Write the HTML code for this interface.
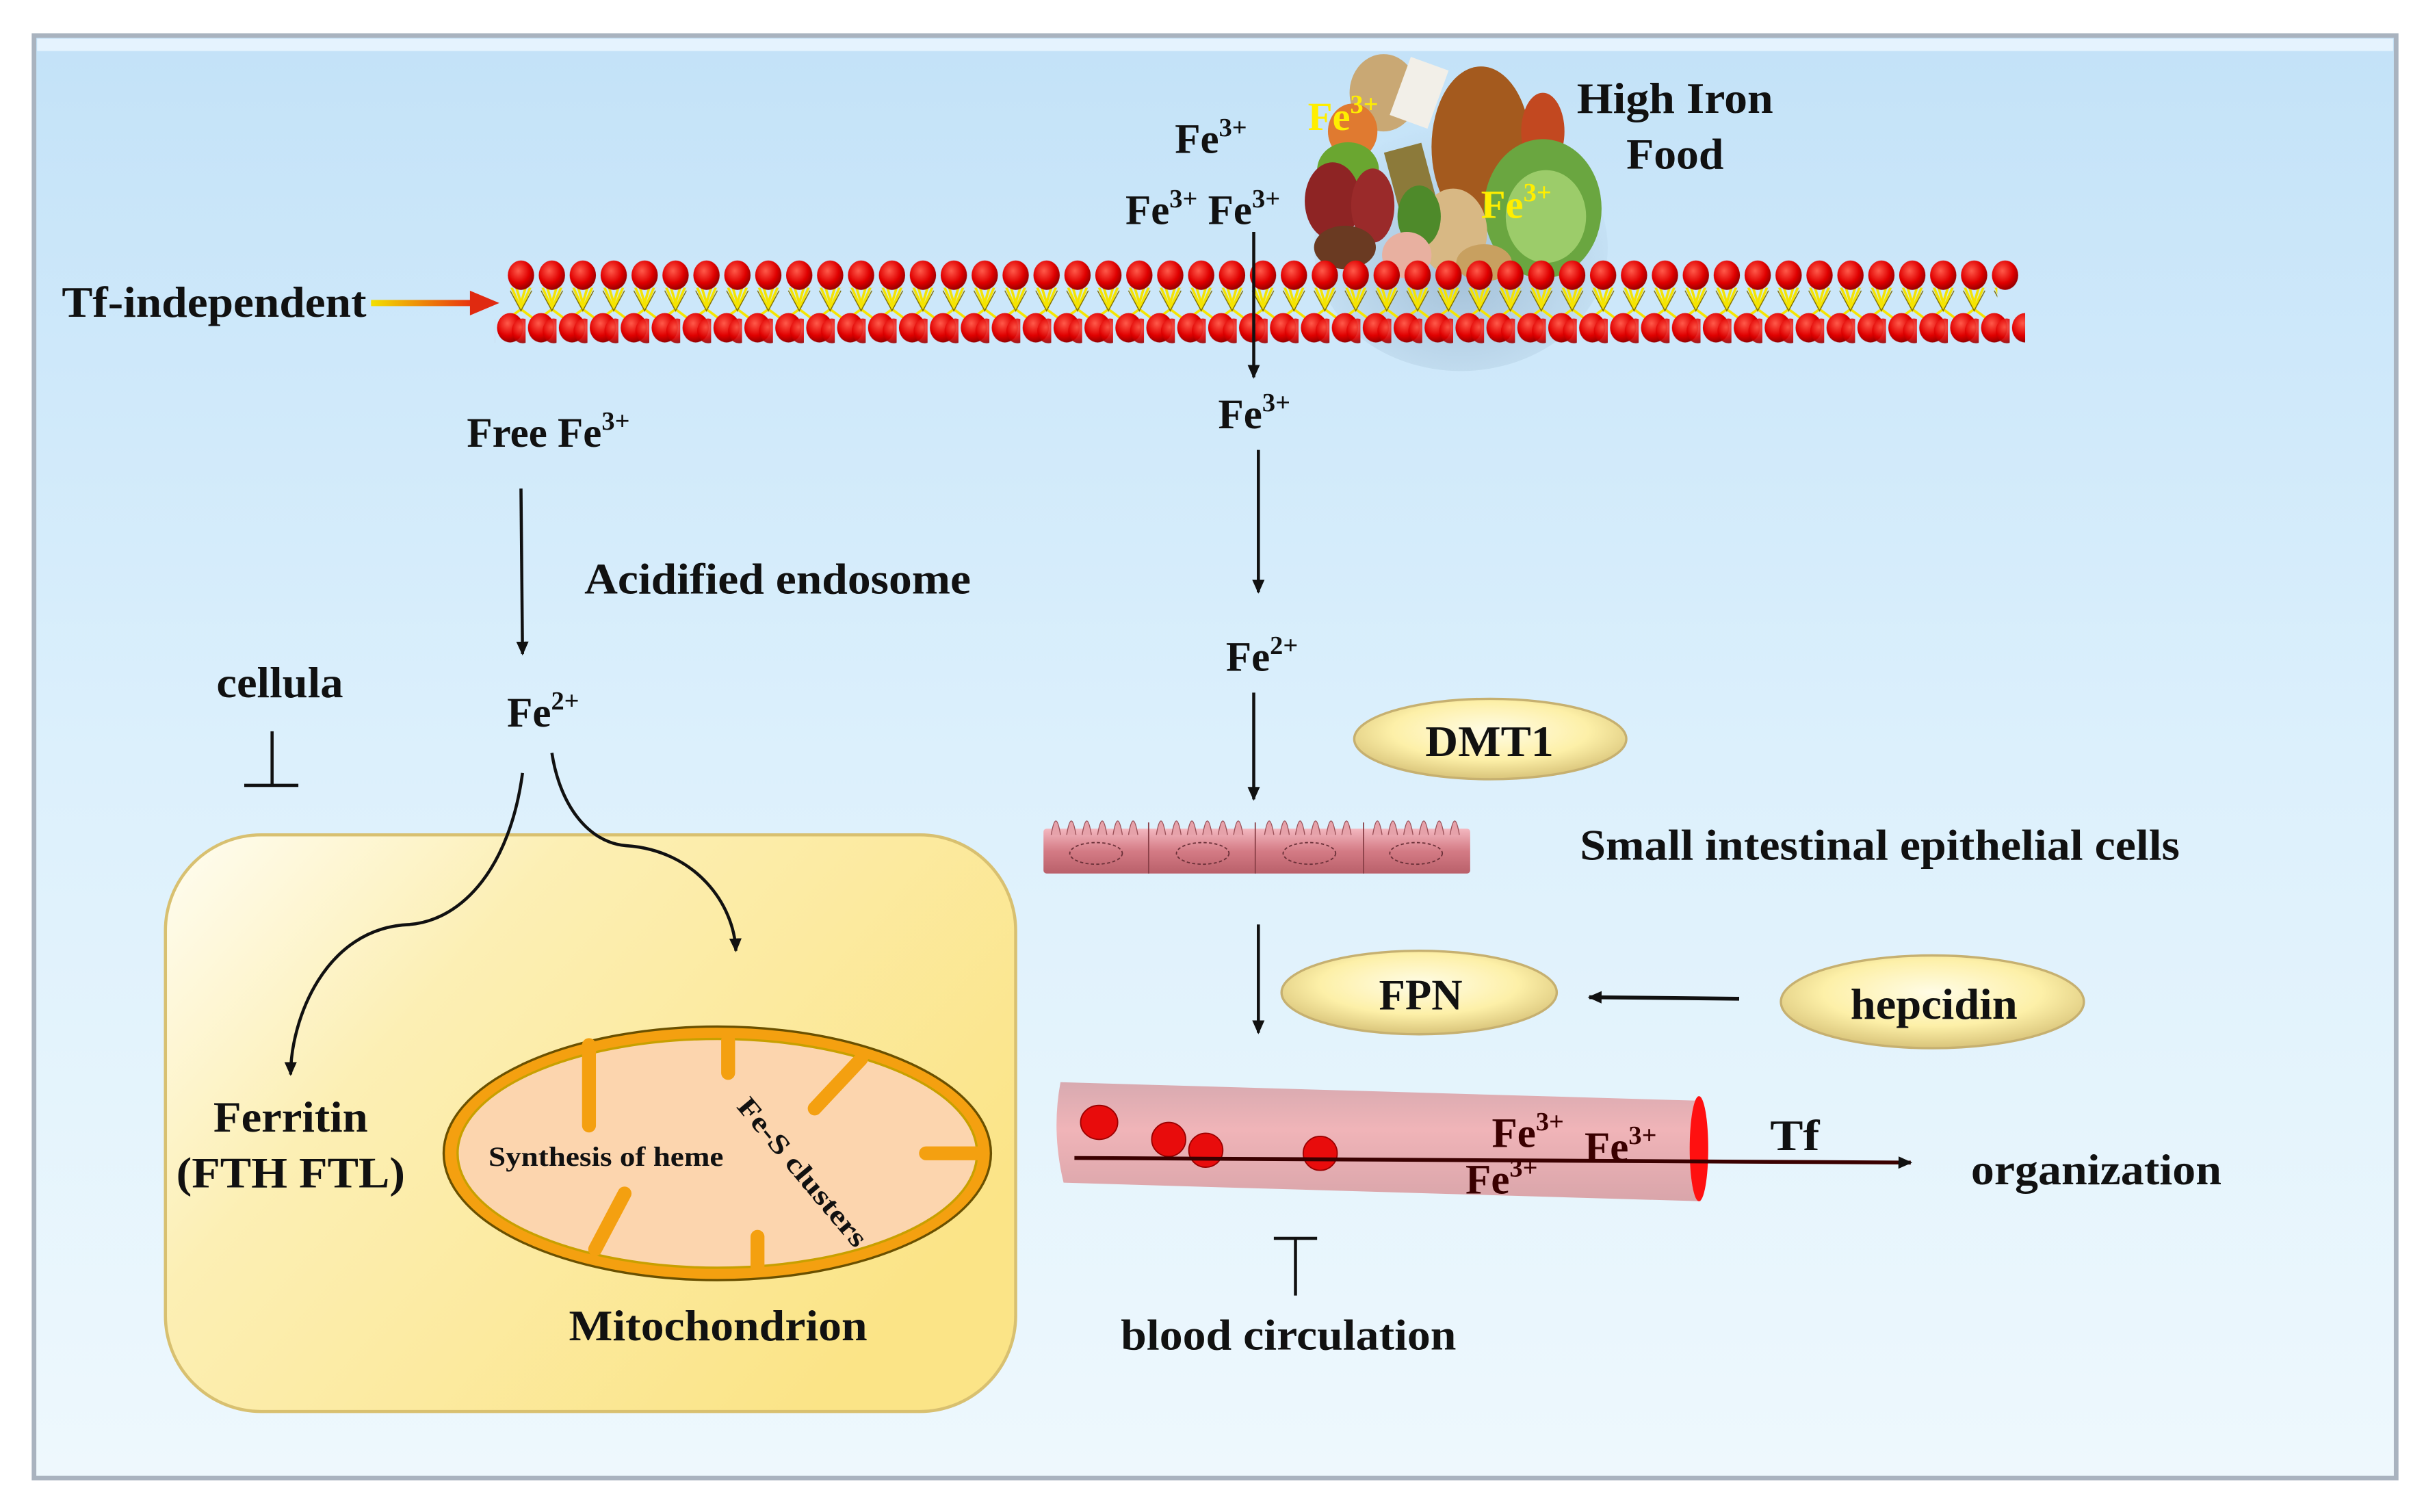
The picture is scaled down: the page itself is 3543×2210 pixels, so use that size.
<!DOCTYPE html>
<html><head><meta charset="utf-8"><style>
html,body{margin:0;padding:0;background:#fff}
svg{display:block}
text{font-family:"Liberation Serif",serif;font-weight:bold;fill:#111}
</style></head><body>
<svg width="3543" height="2210" viewBox="0 0 1568 978" preserveAspectRatio="none" xmlns="http://www.w3.org/2000/svg">
<defs>
<linearGradient id="bg" x1="0" y1="0" x2="0" y2="1"><stop offset="0" stop-color="#c3e2f8"/><stop offset="0.5" stop-color="#dcf0fc"/><stop offset="1" stop-color="#eef8fd"/></linearGradient>
<linearGradient id="cell" x1="0" y1="0" x2="1" y2="0.6"><stop offset="0" stop-color="#fffdf2"/><stop offset="0.35" stop-color="#fcefb4"/><stop offset="1" stop-color="#fbe487"/></linearGradient>
<radialGradient id="head" cx="0.4" cy="0.35" r="0.7"><stop offset="0" stop-color="#ff5a4a"/><stop offset="0.6" stop-color="#e00000"/><stop offset="1" stop-color="#8a0000"/></radialGradient>
<pattern id="topHeads" x="327" y="168" width="20" height="22" patternUnits="userSpaceOnUse"><ellipse cx="10" cy="10" rx="8.5" ry="9.5" fill="url(#head)"/></pattern>
<pattern id="botHeads" x="320" y="202" width="20" height="22" patternUnits="userSpaceOnUse"><ellipse cx="10" cy="10" rx="8.5" ry="9.5" fill="url(#head)"/><ellipse cx="18" cy="12" rx="7" ry="8" fill="url(#head)" opacity="0.9"/></pattern>
<pattern id="tails" x="327" y="186" width="20" height="20" patternUnits="userSpaceOnUse"><path d="M4 0 L10 14 L16 0 M7 0 L10 10 L13 0 M10 14 L2 20 M10 14 L18 20" stroke="#f5e400" stroke-width="1.6" fill="none"/><path d="M3 2 L10 15 L17 2" stroke="#7a6a00" stroke-width="0.6" fill="none"/></pattern>
<linearGradient id="tfArr" x1="0" x2="1"><stop offset="0" stop-color="#f3e000"/><stop offset="1" stop-color="#e83010"/></linearGradient>
<radialGradient id="oval" cx="0.5" cy="0.4" r="0.6"><stop offset="0" stop-color="#fffce6"/><stop offset="0.6" stop-color="#fdf0a8"/><stop offset="1" stop-color="#d9c47a"/></radialGradient>
<linearGradient id="vessel" x1="0" y1="0" x2="0" y2="1"><stop offset="0" stop-color="#d8aab0"/><stop offset="0.4" stop-color="#f0b4b8"/><stop offset="1" stop-color="#d9a5aa"/></linearGradient>
<linearGradient id="epi" x1="0" y1="0" x2="0" y2="1"><stop offset="0" stop-color="#f3b8c0"/><stop offset="0.5" stop-color="#d47b85"/><stop offset="1" stop-color="#b9606a"/></linearGradient>
<radialGradient id="food" cx="0.5" cy="0.6" r="0.6"><stop offset="0" stop-color="#5b7a9a" stop-opacity="0.35"/><stop offset="1" stop-color="#5b7a9a" stop-opacity="0"/></radialGradient>
<marker id="ah" markerWidth="10" markerHeight="10" refX="8" refY="5" orient="auto" markerUnits="userSpaceOnUse"><path d="M0 1 L9 5 L0 9 Z" fill="#111"/></marker>
</defs>

<rect x="0" y="0" width="1568" height="978" fill="#fff"/>
<rect x="22" y="23" width="1528" height="933" fill="url(#bg)" stroke="#a9b3bf" stroke-width="3"/>
<rect x="24" y="25" width="1524" height="8" fill="#eef8ff" opacity="0.8"/>

<ellipse cx="945" cy="160" rx="95" ry="80" fill="url(#food)"/>
<g>
<ellipse cx="895" cy="60" rx="22" ry="25" fill="#c9a874"/>
<rect x="905" y="40" width="26" height="40" fill="#f2efe8" transform="rotate(20 918 60)"/>
<ellipse cx="958" cy="95" rx="32" ry="52" fill="#a45a1e"/>
<ellipse cx="998" cy="85" rx="14" ry="25" fill="#c24820"/>
<ellipse cx="875" cy="85" rx="16" ry="18" fill="#e07a30"/>
<ellipse cx="872" cy="110" rx="20" ry="18" fill="#6aa630"/>
<rect x="900" y="95" width="25" height="40" fill="#8c7a3a" transform="rotate(-15 912 115)"/>
<ellipse cx="862" cy="130" rx="18" ry="25" fill="#8e2424"/>
<ellipse cx="888" cy="133" rx="14" ry="24" fill="#9a2a2a"/>
<ellipse cx="998" cy="135" rx="38" ry="45" fill="#6aa640"/>
<ellipse cx="1000" cy="140" rx="26" ry="30" fill="#9ccc6a"/>
<ellipse cx="940" cy="150" rx="22" ry="28" fill="#d8b884"/>
<ellipse cx="918" cy="140" rx="14" ry="20" fill="#4e8a2a"/>
<ellipse cx="870" cy="160" rx="20" ry="14" fill="#6a3a22"/>
<ellipse cx="910" cy="165" rx="16" ry="15" fill="#e8b0a0"/>
<ellipse cx="960" cy="170" rx="18" ry="12" fill="#c8a060"/>
</g>
<text x="846" y="84" font-size="26" style="fill:#ffee00">Fe<tspan font-size="17" dy="-11">3+</tspan></text>
<text x="958" y="141" font-size="26" style="fill:#ffee00">Fe<tspan font-size="17" dy="-11">3+</tspan></text>
<text x="1020" y="73" font-size="28" textLength="127" lengthAdjust="spacingAndGlyphs">High Iron</text>
<text x="1052" y="109" font-size="28" textLength="63" lengthAdjust="spacingAndGlyphs">Food</text>
<text x="760" y="99" font-size="27">Fe<tspan font-size="17" dy="-11">3+</tspan></text>
<text x="728" y="145" font-size="27">Fe<tspan font-size="17" dy="-11">3+</tspan><tspan dy="11"> Fe</tspan><tspan font-size="17" dy="-11">3+</tspan></text>

<rect x="330" y="186" width="962" height="20" fill="url(#tails)"/>
<rect x="327" y="168" width="980" height="22" fill="url(#topHeads)"/>
<rect x="320" y="202" width="990" height="22" fill="url(#botHeads)"/>

<text x="40" y="205" font-size="28" textLength="197" lengthAdjust="spacingAndGlyphs">Tf-independent</text>
<rect x="240" y="194" width="66" height="4" fill="url(#tfArr)"/>
<path d="M304 188 L323 196 L304 204 Z" fill="#e02a10"/>

<line x1="811" y1="150" x2="811" y2="244" stroke="#111" stroke-width="2" marker-end="url(#ah)"/>
<text x="788" y="277" font-size="27">Fe<tspan font-size="17" dy="-11">3+</tspan></text>
<line x1="814" y1="291" x2="814" y2="383" stroke="#111" stroke-width="2" marker-end="url(#ah)"/>
<text x="793" y="434" font-size="27">Fe<tspan font-size="17" dy="-11">2+</tspan></text>
<line x1="811" y1="448" x2="811" y2="517" stroke="#111" stroke-width="2" marker-end="url(#ah)"/>

<ellipse cx="964" cy="478" rx="88" ry="26" fill="url(#oval)" stroke="#c6b070" stroke-width="1.5"/>
<text x="922" y="489" font-size="28" textLength="83" lengthAdjust="spacingAndGlyphs">DMT1</text>

<g>
<rect x="675" y="536" width="276" height="29" rx="2" fill="url(#epi)"/>
<g fill="#e6a2aa" stroke="#9a5058" stroke-width="0.6">
<path d="M680 540 q3 -18 6 0 M690 540 q3 -18 6 0 M700 540 q3 -18 6 0 M710 540 q3 -18 6 0 M720 540 q3 -18 6 0 M730 540 q3 -18 6 0 M748 540 q3 -18 6 0 M758 540 q3 -18 6 0 M768 540 q3 -18 6 0 M778 540 q3 -18 6 0 M788 540 q3 -18 6 0 M798 540 q3 -18 6 0 M818 540 q3 -18 6 0 M828 540 q3 -18 6 0 M838 540 q3 -18 6 0 M848 540 q3 -18 6 0 M858 540 q3 -18 6 0 M868 540 q3 -18 6 0 M888 540 q3 -18 6 0 M898 540 q3 -18 6 0 M908 540 q3 -18 6 0 M918 540 q3 -18 6 0 M928 540 q3 -18 6 0 M938 540 q3 -18 6 0"/>
</g>
<g stroke="#8a4048" stroke-width="0.8" fill="none">
<line x1="743" y1="532" x2="743" y2="565"/><line x1="812" y1="532" x2="812" y2="565"/><line x1="882" y1="532" x2="882" y2="565"/>
</g>
<g stroke="#6a3038" stroke-width="0.8" fill="none" stroke-dasharray="2 1.5">
<ellipse cx="709" cy="552" rx="17" ry="7"/><ellipse cx="778" cy="552" rx="17" ry="7"/><ellipse cx="847" cy="552" rx="17" ry="7"/><ellipse cx="916" cy="552" rx="17" ry="7"/>
</g>
</g>
<text x="1022" y="556" font-size="28" textLength="388" lengthAdjust="spacingAndGlyphs">Small intestinal epithelial cells</text>

<line x1="814" y1="598" x2="814" y2="668" stroke="#111" stroke-width="2" marker-end="url(#ah)"/>
<ellipse cx="918" cy="642" rx="89" ry="27" fill="url(#oval)" stroke="#c6b070" stroke-width="1.5"/>
<text x="892" y="653" font-size="28" textLength="54" lengthAdjust="spacingAndGlyphs">FPN</text>
<ellipse cx="1250" cy="648" rx="98" ry="30" fill="url(#oval)" stroke="#c6b070" stroke-width="1.5"/>
<text x="1197" y="659" font-size="28" textLength="108" lengthAdjust="spacingAndGlyphs">hepcidin</text>
<line x1="1125" y1="646" x2="1028" y2="645" stroke="#111" stroke-width="2.5" marker-end="url(#ah)"/>

<path d="M686 700 L1100 712 L1100 777 L688 765 Q680 732 686 700 Z" fill="url(#vessel)"/>
<ellipse cx="1099" cy="743" rx="6" ry="34" fill="#ff1010"/>
<g fill="#e80c0c" stroke="#9a0000" stroke-width="0.8">
<ellipse cx="711" cy="726" rx="12" ry="11"/><ellipse cx="756" cy="737" rx="11" ry="11"/><ellipse cx="780" cy="744" rx="11" ry="11"/><ellipse cx="854" cy="746" rx="11" ry="11"/>
</g>
<line x1="695" y1="749" x2="1236" y2="752" stroke="#3a0000" stroke-width="2.5" marker-end="url(#ah)"/>
<text x="965" y="742" font-size="27" style="fill:#3a0000">Fe<tspan font-size="17" dy="-11">3+</tspan></text>
<text x="1025" y="751" font-size="27" style="fill:#3a0000">Fe<tspan font-size="17" dy="-11">3+</tspan></text>
<text x="948" y="772" font-size="27" style="fill:#3a0000">Fe<tspan font-size="17" dy="-11">3+</tspan></text>
<text x="1145" y="744" font-size="28" textLength="32" lengthAdjust="spacingAndGlyphs">Tf</text>
<text x="1275" y="766" font-size="28" textLength="162" lengthAdjust="spacingAndGlyphs">organization</text>
<line x1="838" y1="801" x2="838" y2="838" stroke="#111" stroke-width="2"/>
<line x1="824" y1="801" x2="852" y2="801" stroke="#111" stroke-width="2"/>
<text x="725" y="873" font-size="28" textLength="217" lengthAdjust="spacingAndGlyphs">blood circulation</text>

<text x="302" y="289" font-size="27">Free Fe<tspan font-size="17" dy="-11">3+</tspan></text>
<line x1="337" y1="316" x2="338" y2="423" stroke="#111" stroke-width="2" marker-end="url(#ah)"/>
<text x="378" y="384" font-size="28" textLength="250" lengthAdjust="spacingAndGlyphs">Acidified endosome</text>
<text x="140" y="451" font-size="28" textLength="82" lengthAdjust="spacingAndGlyphs">cellula</text>
<line x1="176" y1="473" x2="176" y2="508" stroke="#111" stroke-width="2"/>
<line x1="158" y1="508" x2="193" y2="508" stroke="#111" stroke-width="2"/>
<text x="328" y="470" font-size="27">Fe<tspan font-size="17" dy="-11">2+</tspan></text>

<rect x="107" y="540" width="550" height="373" rx="62" fill="url(#cell)" stroke="#d8c070" stroke-width="2"/>
<path d="M338 500 C330 560 300 595 265 598 C210 600 188 660 188 695" stroke="#111" stroke-width="2" fill="none" marker-end="url(#ah)"/>
<path d="M357 487 C362 520 380 545 405 547 C450 550 475 585 476 615" stroke="#111" stroke-width="2" fill="none" marker-end="url(#ah)"/>
<text x="138" y="732" font-size="28" textLength="100" lengthAdjust="spacingAndGlyphs">Ferritin</text>
<text x="114" y="768" font-size="28" textLength="148" lengthAdjust="spacingAndGlyphs">(FTH FTL)</text>

<ellipse cx="464" cy="746" rx="177" ry="82" fill="#f4a010" stroke="#6a5000" stroke-width="1.5"/>
<ellipse cx="464" cy="746" rx="168" ry="74" fill="#fcd5ae" stroke="#c8a000" stroke-width="1.5"/>
<g stroke="#f4a010" stroke-width="9" stroke-linecap="round">
<line x1="381" y1="676" x2="381" y2="728"/>
<line x1="471" y1="673" x2="471" y2="694"/>
<line x1="557" y1="685" x2="527" y2="717"/>
<line x1="632" y1="746" x2="599" y2="746"/>
<line x1="490" y1="820" x2="490" y2="800"/>
<line x1="385" y1="808" x2="404" y2="772"/>
</g>
<text x="316" y="754" font-size="18" textLength="152" lengthAdjust="spacingAndGlyphs">Synthesis of heme</text>
<text x="0" y="0" font-size="18" transform="translate(476 716) rotate(50)" textLength="120" lengthAdjust="spacingAndGlyphs">Fe-S clusters</text>
<text x="368" y="867" font-size="28" textLength="193" lengthAdjust="spacingAndGlyphs">Mitochondrion</text>
</svg>
</body></html>
